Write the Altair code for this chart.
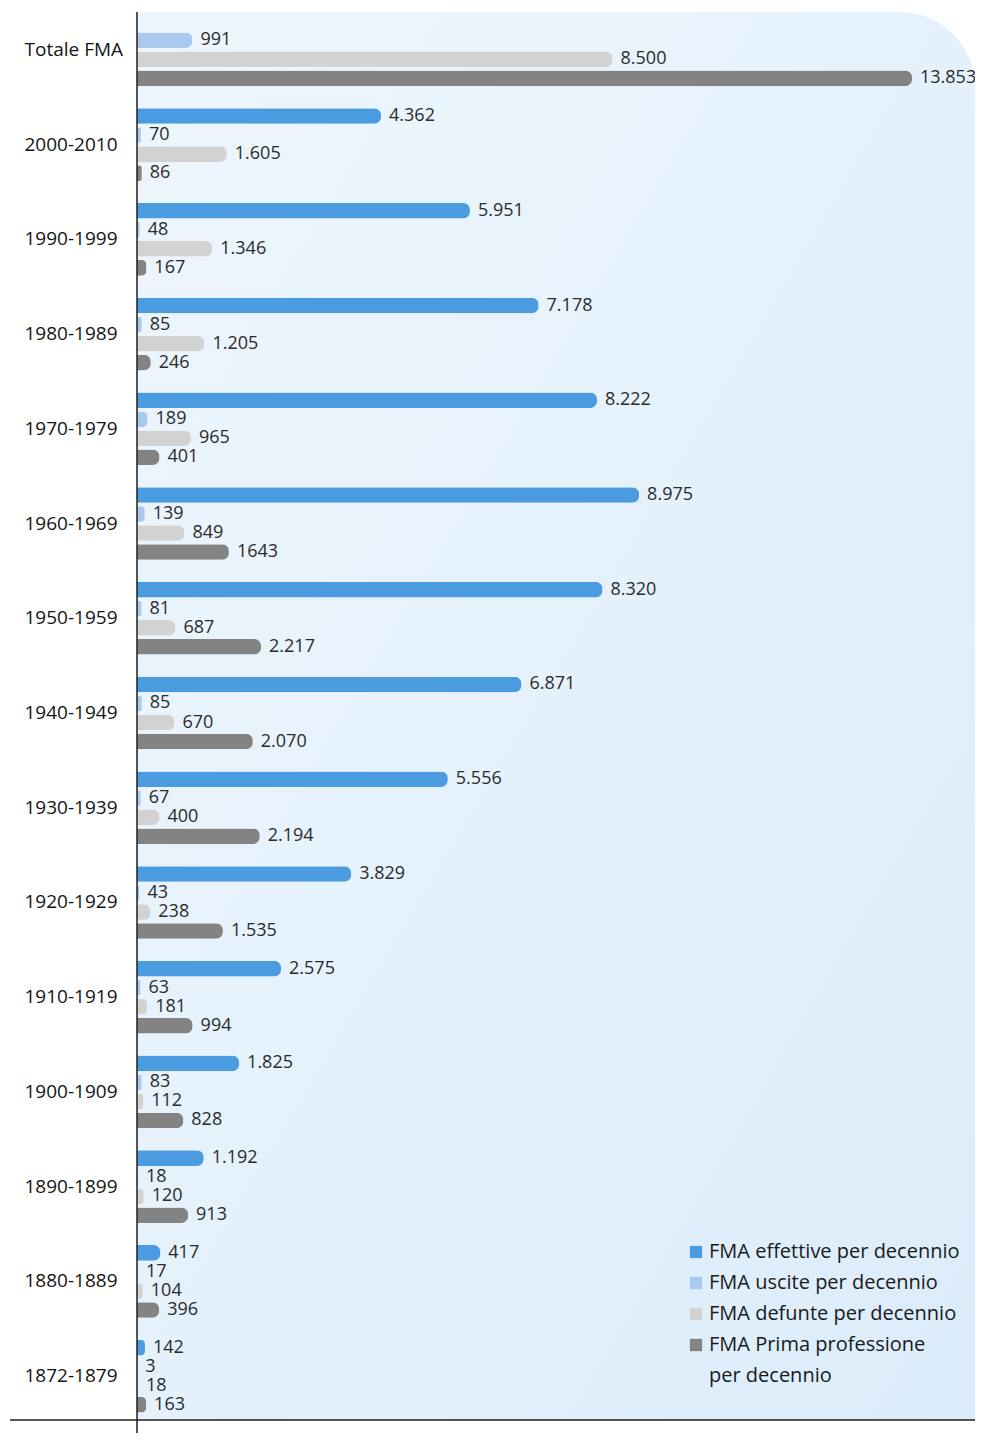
import altair as alt
import pandas as pd

categories = ["Totale FMA", "2000-2010", "1990-1999", "1980-1989", "1970-1979",
              "1960-1969", "1950-1959", "1940-1949", "1930-1939", "1920-1929",
              "1910-1919", "1900-1909", "1890-1899", "1880-1889", "1872-1879"]

series = ["FMA effettive per decennio", "FMA uscite per decennio",
          "FMA defunte per decennio", "FMA Prima professione per decennio"]
# second line of the last legend entry, shown as an entry without a swatch
legend_extra = "per decennio"

effettive = [None, 4362, 5951, 7178, 8222, 8975, 8320, 6871, 5556, 3829, 2575, 1825, 1192, 417, 142]
uscite = [991, 70, 48, 85, 189, 139, 81, 85, 67, 43, 63, 83, 18, 17, 3]
defunte = [8500, 1605, 1346, 1205, 965, 849, 687, 670, 400, 238, 181, 112, 120, 104, 18]
prima = [13853, 86, 167, 246, 401, 1643, 2217, 2070, 2194, 1535, 994, 828, 913, 396, 163]

# label text as printed (one value is printed without separator)
label_override = {("1960-1969", series[3]): "1643"}

colors = ["#4a9be0", "#a9c9f0", "#d2d2d2", "#838383", "rgba(0,0,0,0)"]


def fmt(v):
    return f"{v:,}".replace(",", ".")


rows = []
for s, vals in zip(series, [effettive, uscite, defunte, prima]):
    for c, v in zip(categories, vals):
        if v is None:
            continue
        rows.append({"cat": c, "serie": s, "val": v,
                     "lab": label_override.get((c, s), fmt(v))})
df = pd.DataFrame(rows)

W, H = 838, 1408
FONT = "Open Sans"

y = alt.Y("cat:N", sort=categories, title=None,
          scale=alt.Scale(paddingInner=0.233, paddingOuter=0, range=[1.5, 1400.5]),
          axis=alt.Axis(domain=False, ticks=False, tickSize=0, labelAlign="left",
                        labelPadding=113, labelFontSize=19, labelFont=FONT,
                        labelColor="#141414"))
yoff = alt.YOffset("serie:N", sort=series,
                   scale=alt.Scale(domain=series, paddingInner=0.18, paddingOuter=0))
x = alt.X("val:Q", title=None, scale=alt.Scale(domain=[0, 14979], nice=False),
          axis=None)

bg = alt.Chart(pd.DataFrame({"a": [0]})).mark_rect(
    cornerRadiusTopRight=75,
    color=alt.LinearGradient(gradient="linear", x1=0, y1=0, x2=1, y2=1,
                             stops=[alt.GradientStop(offset=0, color="#eef6fd"),
                                    alt.GradientStop(offset=1, color="#dbecfa")])
).encode(x=alt.value(0), x2=alt.value(W), y=alt.value(0), y2=alt.value(H))

bars = alt.Chart(df).mark_bar(cornerRadiusEnd=7).encode(
    y=y, yOffset=yoff, x=x,
    color=alt.Color("serie:N", sort=series,
                    scale=alt.Scale(domain=series + [legend_extra], range=colors),
                    legend=alt.Legend(
                        title=None, orient="none", legendX=549, legendY=1230,
                        symbolType="square", symbolSize=150, symbolStrokeWidth=0,
                        labelFontSize=20, labelFont=FONT, labelColor="#1a1a1a",
                        labelOffset=3, rowPadding=11, labelLimit=400,
                        labelExpr="datum.label == 'FMA Prima professione per decennio' ? 'FMA Prima professione' : datum.label")),
)

texts = alt.Chart(df).mark_text(align="left", baseline="middle", dx=8,
                                fontSize=18, font=FONT, color="#2b2b2b").encode(
    y=y, yOffset=yoff, x=x, text="lab:N")

vline = alt.Chart(pd.DataFrame({"a": [0]})).mark_rule(color="#1e1e1e", strokeWidth=1.5).encode(
    x=alt.value(0), y=alt.value(0), y2=alt.value(H + 13))
hline = alt.Chart(pd.DataFrame({"a": [0]})).mark_rule(color="#1e1e1e", strokeWidth=1.5).encode(
    x=alt.value(-127), x2=alt.value(W), y=alt.value(H))

chart = alt.layer(bg, bars, texts, vline, hline).properties(
    width=W, height=H,
    autosize=alt.AutoSizeParams(type="none"),
    padding={"left": 129, "top": 4, "right": 0, "bottom": 13},
    background="white",
).configure_view(stroke=None)

chart.save("out.html", embed_options={"renderer": "svg", "actions": False})
